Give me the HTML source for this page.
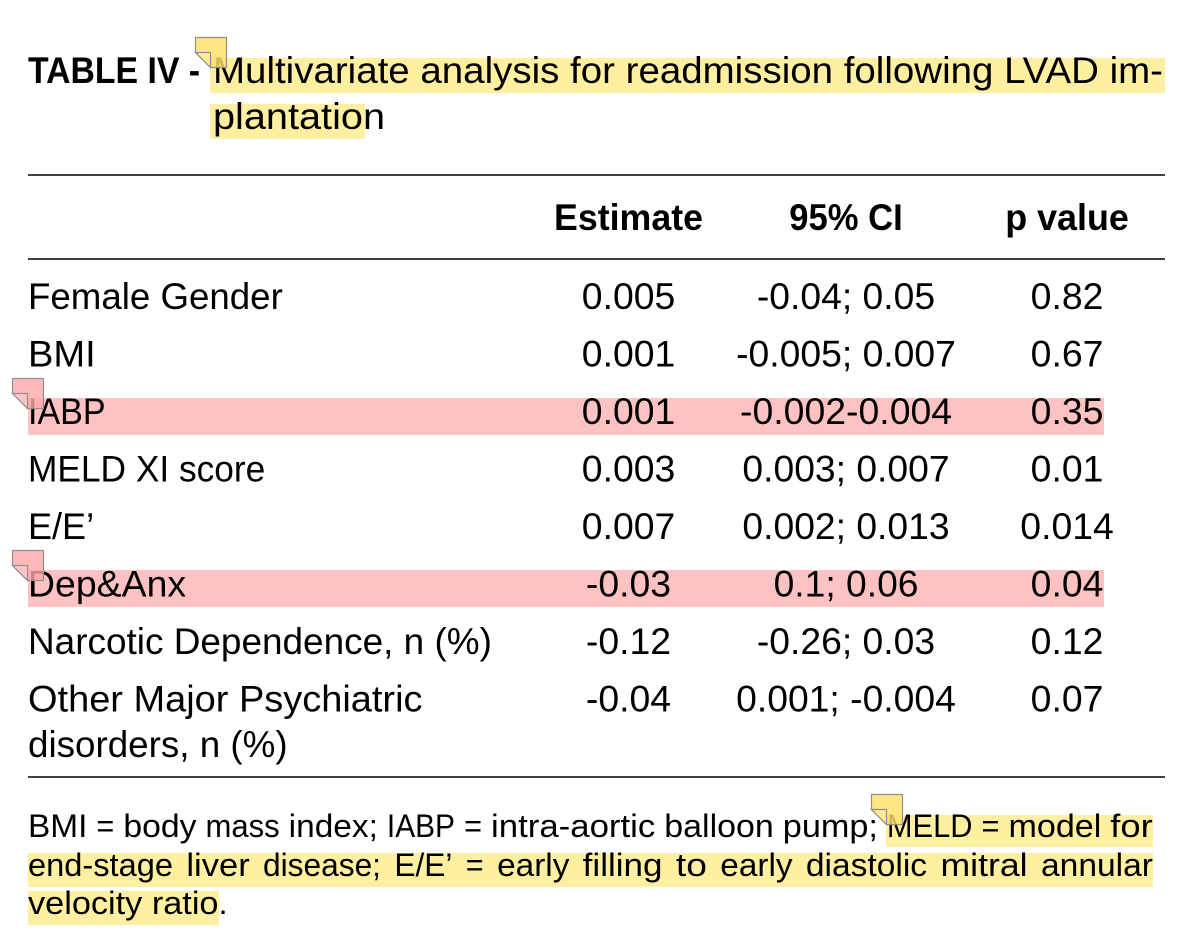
<!DOCTYPE html>
<html>
<head>
<meta charset="utf-8">
<style>
html,body{margin:0;padding:0;background:#fff;}
svg{display:block;}
text{font-family:"Liberation Sans",Arial,sans-serif;fill:#000;}
.t{font-size:37px;}
.b{font-size:37px;font-weight:bold;}
.f{font-size:32.4px;}
</style>
</head>
<body>
<svg width="1192" height="952" viewBox="0 0 1192 952" xmlns="http://www.w3.org/2000/svg">
<rect x="0" y="0" width="1192" height="952" fill="#fff"/>

<!-- highlights -->
<rect x="210" y="58" width="955" height="35" fill="#FFEFA0"/>
<rect x="210" y="104" width="155" height="35" fill="#FFEFA0"/>
<rect x="28" y="398" width="1076" height="37" fill="#FFC2C2"/>
<rect x="28" y="570" width="1076" height="37" fill="#FFC2C2"/>
<rect x="886" y="815" width="267" height="32" fill="#FFEFA0"/>
<rect x="28" y="853" width="1125" height="34" fill="#FFEFA0"/>
<rect x="28" y="891" width="191" height="34" fill="#FFEFA0"/>

<!-- title -->
<text class="b" x="28" y="83" textLength="172" lengthAdjust="spacingAndGlyphs">TABLE IV -</text>
<text class="t" x="213" y="83" textLength="950" lengthAdjust="spacingAndGlyphs">Multivariate analysis for readmission following LVAD im-</text>
<text class="t" x="213" y="129" textLength="172" lengthAdjust="spacingAndGlyphs">plantation</text>

<!-- rules -->
<rect x="28" y="174.2" width="1137" height="1.6" fill="#111"/>
<rect x="28" y="258.2" width="1137" height="1.6" fill="#111"/>
<rect x="28" y="776.2" width="1137" height="1.6" fill="#111"/>

<!-- header -->
<text class="b" x="554" y="230" textLength="149" lengthAdjust="spacingAndGlyphs">Estimate</text>
<text class="b" x="789.3" y="230" textLength="113.4" lengthAdjust="spacingAndGlyphs">95% CI</text>
<text class="b" x="1005.2" y="230" textLength="123.7" lengthAdjust="spacingAndGlyphs">p value</text>

<!-- row labels -->
<text class="t" x="28" y="309" textLength="254.8" lengthAdjust="spacingAndGlyphs">Female Gender</text>
<text class="t" x="28" y="366.5" textLength="67.7" lengthAdjust="spacingAndGlyphs">BMI</text>
<text class="t" x="28" y="424" textLength="77.6" lengthAdjust="spacingAndGlyphs">IABP</text>
<text class="t" x="28" y="481.5" textLength="237.3" lengthAdjust="spacingAndGlyphs">MELD XI score</text>
<text class="t" x="28" y="539" textLength="66.1" lengthAdjust="spacingAndGlyphs">E/E’</text>
<text class="t" x="28" y="596.5" textLength="158.1" lengthAdjust="spacingAndGlyphs">Dep&amp;Anx</text>
<text class="t" x="28" y="654" textLength="463.9" lengthAdjust="spacingAndGlyphs">Narcotic Dependence, n (%)</text>
<text class="t" x="28" y="711.5" textLength="394.5" lengthAdjust="spacingAndGlyphs">Other Major Psychiatric</text>
<text class="t" x="28" y="757" textLength="259.6" lengthAdjust="spacingAndGlyphs">disorders, n (%)</text>

<!-- estimate column -->
<text class="t" x="581.8" y="309" textLength="93.5" lengthAdjust="spacingAndGlyphs">0.005</text>
<text class="t" x="581.8" y="366.5" textLength="93.5" lengthAdjust="spacingAndGlyphs">0.001</text>
<text class="t" x="581.8" y="424" textLength="93.5" lengthAdjust="spacingAndGlyphs">0.001</text>
<text class="t" x="581.8" y="481.5" textLength="93.5" lengthAdjust="spacingAndGlyphs">0.003</text>
<text class="t" x="581.8" y="539" textLength="93.5" lengthAdjust="spacingAndGlyphs">0.007</text>
<text class="t" x="585.9" y="596.5" textLength="85.2" lengthAdjust="spacingAndGlyphs">-0.03</text>
<text class="t" x="585.9" y="654" textLength="85.2" lengthAdjust="spacingAndGlyphs">-0.12</text>
<text class="t" x="585.9" y="711.5" textLength="85.2" lengthAdjust="spacingAndGlyphs">-0.04</text>

<!-- CI column -->
<text class="t" x="756.9" y="309" textLength="178.2" lengthAdjust="spacingAndGlyphs">-0.04; 0.05</text>
<text class="t" x="736.1" y="366.5" textLength="219.8" lengthAdjust="spacingAndGlyphs">-0.005; 0.007</text>
<text class="t" x="740" y="424" textLength="212.1" lengthAdjust="spacingAndGlyphs">-0.002-0.004</text>
<text class="t" x="742.4" y="481.5" textLength="207.2" lengthAdjust="spacingAndGlyphs">0.003; 0.007</text>
<text class="t" x="742.4" y="539" textLength="207.2" lengthAdjust="spacingAndGlyphs">0.002; 0.013</text>
<text class="t" x="773.6" y="596.5" textLength="144.9" lengthAdjust="spacingAndGlyphs">0.1; 0.06</text>
<text class="t" x="756.9" y="654" textLength="178.2" lengthAdjust="spacingAndGlyphs">-0.26; 0.03</text>
<text class="t" x="736.1" y="711.5" textLength="219.8" lengthAdjust="spacingAndGlyphs">0.001; -0.004</text>

<!-- p column -->
<text class="t" x="1030.7" y="309" textLength="72.7" lengthAdjust="spacingAndGlyphs">0.82</text>
<text class="t" x="1030.7" y="366.5" textLength="72.7" lengthAdjust="spacingAndGlyphs">0.67</text>
<text class="t" x="1030.7" y="424" textLength="72.7" lengthAdjust="spacingAndGlyphs">0.35</text>
<text class="t" x="1030.7" y="481.5" textLength="72.7" lengthAdjust="spacingAndGlyphs">0.01</text>
<text class="t" x="1020.3" y="539" textLength="93.5" lengthAdjust="spacingAndGlyphs">0.014</text>
<text class="t" x="1030.7" y="596.5" textLength="72.7" lengthAdjust="spacingAndGlyphs">0.04</text>
<text class="t" x="1030.7" y="654" textLength="72.7" lengthAdjust="spacingAndGlyphs">0.12</text>
<text class="t" x="1030.7" y="711.5" textLength="72.7" lengthAdjust="spacingAndGlyphs">0.07</text>

<!-- footnote line 1 -->
<text class="f" x="28" y="837" textLength="59.4" lengthAdjust="spacingAndGlyphs">BMI</text>
<text class="f" x="96.4" y="837" textLength="17.9" lengthAdjust="spacingAndGlyphs">=</text>
<text class="f" x="123.4" y="837" textLength="73.1" lengthAdjust="spacingAndGlyphs">body</text>
<text class="f" x="205.5" y="837" textLength="74.2" lengthAdjust="spacingAndGlyphs">mass</text>
<text class="f" x="288.7" y="837" textLength="89.2" lengthAdjust="spacingAndGlyphs">index;</text>
<text class="f" x="386.9" y="837" textLength="68.1" lengthAdjust="spacingAndGlyphs">IABP</text>
<text class="f" x="464.1" y="837" textLength="17.9" lengthAdjust="spacingAndGlyphs">=</text>
<text class="f" x="491" y="837" textLength="164.3" lengthAdjust="spacingAndGlyphs">intra-aortic</text>
<text class="f" x="664.3" y="837" textLength="109.5" lengthAdjust="spacingAndGlyphs">balloon</text>
<text class="f" x="782.8" y="837" textLength="95.1" lengthAdjust="spacingAndGlyphs">pump;</text>
<text class="f" x="886.9" y="837" textLength="85.6" lengthAdjust="spacingAndGlyphs">MELD</text>
<text class="f" x="981.5" y="837" textLength="17.9" lengthAdjust="spacingAndGlyphs">=</text>
<text class="f" x="1008.5" y="837" textLength="92.8" lengthAdjust="spacingAndGlyphs">model</text>
<text class="f" x="1110.3" y="837" textLength="42.5" lengthAdjust="spacingAndGlyphs">for</text>

<!-- footnote line 2 -->
<text class="f" x="28" y="876" textLength="145" lengthAdjust="spacingAndGlyphs">end-stage</text>
<text class="f" x="186.4" y="876" textLength="63.3" lengthAdjust="spacingAndGlyphs">liver</text>
<text class="f" x="263" y="876" textLength="118" lengthAdjust="spacingAndGlyphs">disease;</text>
<text class="f" x="394.4" y="876" textLength="58" lengthAdjust="spacingAndGlyphs">E/E’</text>
<text class="f" x="465.8" y="876" textLength="17.9" lengthAdjust="spacingAndGlyphs">=</text>
<text class="f" x="497.1" y="876" textLength="72.3" lengthAdjust="spacingAndGlyphs">early</text>
<text class="f" x="582.7" y="876" textLength="79.8" lengthAdjust="spacingAndGlyphs">filling</text>
<text class="f" x="675.9" y="876" textLength="31" lengthAdjust="spacingAndGlyphs">to</text>
<text class="f" x="720.3" y="876" textLength="72.3" lengthAdjust="spacingAndGlyphs">early</text>
<text class="f" x="805.9" y="876" textLength="121.2" lengthAdjust="spacingAndGlyphs">diastolic</text>
<text class="f" x="940.5" y="876" textLength="87.1" lengthAdjust="spacingAndGlyphs">mitral</text>
<text class="f" x="1041" y="876" textLength="112" lengthAdjust="spacingAndGlyphs">annular</text>

<!-- footnote line 3 -->
<text class="f" x="28" y="914" textLength="190.5" lengthAdjust="spacingAndGlyphs">velocity ratio</text>
<text class="f" x="218.5" y="914" textLength="9.1" lengthAdjust="spacingAndGlyphs">.</text>

<!-- comment icons -->
<g stroke="#8f8f8f" stroke-width="1.2" stroke-linejoin="miter">
  <polygon points="195.5,37.5 226.5,37.5 226.5,67.5 210.5,67.5 195.5,52.5" fill="#FFE06A" fill-opacity="0.82"/>
  <polygon points="195.5,52.5 210.5,52.5 210.5,67.5" fill="#FFEB98" fill-opacity="0.85"/>

  <polygon points="12.5,378.5 43.5,378.5 43.5,408.5 27.5,408.5 12.5,393.5" fill="#FFA8A8" fill-opacity="0.8"/>
  <polygon points="12.5,393.5 27.5,393.5 27.5,408.5" fill="#FFC6C6" fill-opacity="0.85"/>

  <polygon points="12.5,550.5 43.5,550.5 43.5,580.5 27.5,580.5 12.5,565.5" fill="#FFA8A8" fill-opacity="0.8"/>
  <polygon points="12.5,565.5 27.5,565.5 27.5,580.5" fill="#FFC6C6" fill-opacity="0.85"/>

  <polygon points="871.5,794.5 902.5,794.5 902.5,824.5 886.5,824.5 871.5,809.5" fill="#FFE06A" fill-opacity="0.82"/>
  <polygon points="871.5,809.5 886.5,809.5 886.5,824.5" fill="#FFEB98" fill-opacity="0.85"/>
</g>
</svg>
</body>
</html>
